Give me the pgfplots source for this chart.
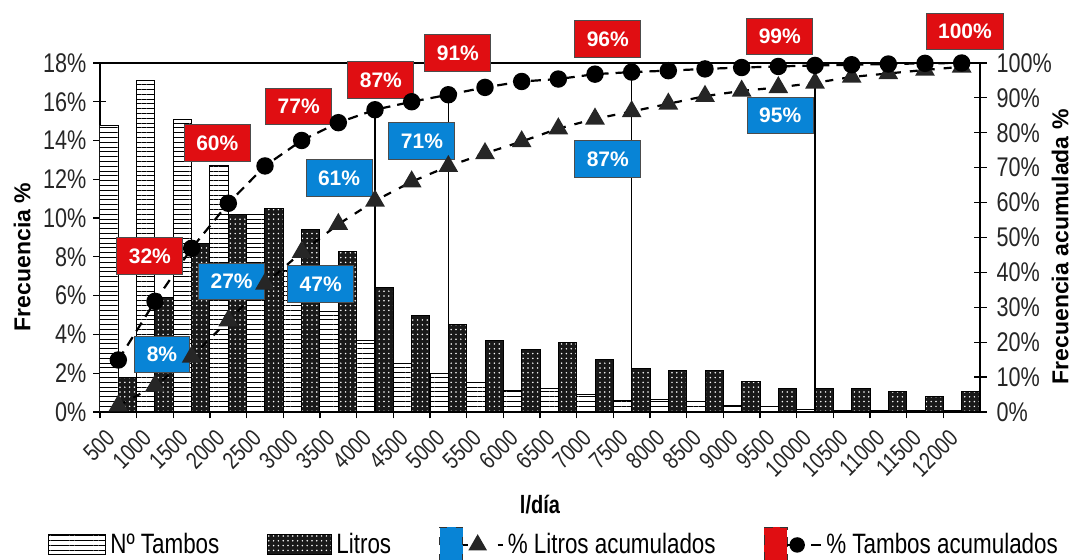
\documentclass[border=0pt]{standalone}
\usepackage{fontspec}
\setmainfont{Liberation Sans}
\newfontfamily\narrow[FakeStretch=0.8]{Liberation Sans}
\usepackage{pgfplots}
\pgfplotsset{compat=1.18}
\usepackage{pgfplotstable}
\usetikzlibrary{patterns,patterns.meta}
\definecolor{cred}{RGB}{224,14,18}
\definecolor{cblue}{RGB}{8,132,214}

\pgfplotstableread{
idx T L TC LC
0 14.8 1.8 14.9 1.8
1 17.1 5.9 31.7 7.5
2 15.1 8.7 46.9 15.8
3 12.7 10.2 59.8 26.2
4 10.2 10.5 70.5 36.7
5 7.3 9.4 77.8 45.8
6 5.2 8.3 82.9 53.8
7 3.7 6.4 86.6 60.5
8 2.5 5.0 88.9 66.0
9 2.0 4.5 90.9 70.4
10 1.5 3.7 93.0 74.1
11 1.13 3.2 94.7 77.5
12 1.2 3.6 95.4 81.2
13 0.9 2.7 96.8 84.0
14 0.58 2.25 97.4 86.1
15 0.62 2.13 97.8 88.3
16 0.53 2.13 98.3 90.5
17 0.36 1.56 98.7 92.0
18 0.27 1.22 99.0 93.0
19 0.14 1.22 99.3 94.3
20 0.1 1.22 99.5 96.0
21 0.1 1.08 99.7 97.0
22 0.06 0.79 99.9 98.0
23 0.06 1.05 100 98.9
}\data

\tikzset{
  tambosfill/.style={draw=black, line width=0.5pt, fill=white,
    postaction={pattern color=black, pattern={Lines[angle=0,distance=2.4pt,line width=0.5pt]}}},
  litrosfill/.style={draw=black, line width=0.5pt, fill=black!90,
    postaction={pattern color=white, pattern={Dots[distance=2.4pt,radius=0.42pt]}}},
  callout/.style={draw=black!70, line width=0.5pt, text=white,
    font=\fontsize{10.5}{12}\selectfont\bfseries, inner xsep=6pt, inner ysep=0pt,
    minimum height=18.3pt},
  callred/.style={callout, fill=cred},
  callblue/.style={callout, fill=cblue},
}

\begin{document}
\begin{tikzpicture}
\begin{axis}[
  scale only axis, width=440pt, height=174.5pt, at={(50pt,74pt)}, anchor=south west,
  xmin=-0.5, xmax=23.5, ymin=0, ymax=18,
  xtick={-0.5,0.5,...,22.5},
  xticklabels={500,1000,1500,2000,2500,3000,3500,4000,4500,5000,5500,6000,6500,7000,7500,8000,8500,9000,9500,10000,10500,11000,11500,12000},
  ytick={0,2,...,18},
  yticklabel={\pgfmathparse{int(round(\tick))}\pgfmathresult\%},
  tick align=center, major tick length=6.5pt, ytick pos=left, xtick pos=bottom,
  tick style={black, line width=0.6pt}, axis line style={black, line width=0.8pt},
  x tick label style={font=\narrow\fontsize{12}{12}\selectfont, text=black!85, rotate=45, anchor=north east, xshift=1.5pt, yshift=-1.5pt},
  y tick label style={font=\narrow\fontsize{13.5}{14}\selectfont, text=black!85},
  ylabel={Frecuencia \%},
  ylabel style={font=\bfseries\fontsize{11.5}{12}\selectfont, at={(axis description cs:-0.0886,0.444)}, anchor=center},
  xlabel={l/día},
  xlabel style={font=\narrow\bfseries\fontsize{12.5}{13}\selectfont, at={(axis description cs:0.5,-0.2665)}, anchor=center},
]
\addplot[ybar, bar width=0.5, bar shift=-0.25, tambosfill] table[x=idx,y=T]{\data};
\addplot[ybar, bar width=0.5, bar shift=0.25, litrosfill] table[x=idx,y=L]{\data};
\end{axis}

\begin{axis}[
  scale only axis, width=440pt, height=174.5pt, at={(50pt,74pt)}, anchor=south west,
  xmin=-0.5, xmax=23.5, ymin=0, ymax=100,
  axis y line*=right, axis x line=none, clip=false,
  ytick={0,10,...,100},
  yticklabel={\pgfmathparse{int(round(\tick))}\pgfmathresult\%},
  tick align=center, major tick length=6.5pt,
  tick style={black, line width=0.6pt}, axis line style={black, line width=0.8pt},
  y tick label style={font=\narrow\fontsize{13.5}{14}\selectfont, text=black!85, xshift=1.5pt},
  ylabel={Frecuencia acumulada \%},
  ylabel style={font=\bfseries\fontsize{11.5}{12}\selectfont, at={(axis description cs:1.091,0.473)}, anchor=center},
  legend columns=4,
  legend style={at={(axis description cs:-0.0591,-0.381)}, anchor=west, draw=none, fill=none,
    inner sep=0pt, font=\narrow\fontsize{14}{15}\selectfont,
    /tikz/every even column/.append style={column sep=22pt}},
]
\addlegendimage{legend image code/.code={\draw[tambosfill] (0pt,-5pt) rectangle (28.5pt,5pt);}}
\addlegendentry{Nº Tambos}
\addlegendimage{legend image code/.code={\draw[litrosfill] (0pt,-5pt) rectangle (32pt,5pt);}}
\addlegendentry{Litros}

\addplot[black, line width=0.7pt, forget plot] coordinates {(7,0) (7,86.6)};
\addplot[black, line width=0.7pt, forget plot] coordinates {(9,0) (9,90.9)};
\addplot[black, line width=0.7pt, forget plot] coordinates {(14,0) (14,97.4)};
\addplot[black, line width=0.7pt, forget plot] coordinates {(19,0) (19,99.3)};

\addplot[black, line width=1.1pt, dash pattern=on 4pt off 4.5pt, mark=triangle*, mark size=4.6pt,
  mark options={solid, fill=black!85, draw=black!85},
  legend image code/.code={
    \draw[fill=cblue, draw=black!80, line width=0.5pt] (0pt,-8.75pt) rectangle (11.5pt,8.75pt);
    \draw[black, line width=1.1pt] (11.5pt,0pt) -- (14pt,0pt);
    \draw[black, line width=1.1pt] (29pt,0pt) -- (31.5pt,0pt);
    \draw[black, fill=black!85, mark size=4.3pt] plot[mark=triangle*] coordinates {(19pt,0pt)};
  }] table[x=idx,y=LC]{\data};
\addlegendentry{\% Litros acumulados}

\addplot[black, line width=1.1pt, dash pattern=on 5pt off 3.5pt, mark=*, mark size=3.8pt,
  mark options={solid, fill=black},
  legend image code/.code={
    \draw[fill=cred, draw=black!80, line width=0.5pt] (0pt,-8.75pt) rectangle (11.5pt,8.75pt);
    \draw[black, line width=1.1pt] (11.5pt,0pt) -- (14pt,0pt);
    \draw[black, line width=1.1pt] (23.5pt,0pt) -- (28.5pt,0pt);
    \draw[black, fill=black, mark size=3.3pt] plot[mark=*] coordinates {(16.5pt,0pt)};
  }] table[x=idx,y=TC]{\data};
\addlegendentry{\% Tambos acumulados}

\node[callred] at (axis cs:0.86,44.7) {32\%};
\node[callred] at (axis cs:2.70,77.0) {60\%};
\node[callred] at (axis cs:4.92,87.5) {77\%};
\node[callred] at (axis cs:7.16,95.1) {87\%};
\node[callred] at (axis cs:9.26,102.8) {91\%};
\node[callred] at (axis cs:13.35,106.9) {96\%};
\node[callred] at (axis cs:18.04,107.6) {99\%};
\node[callred] at (axis cs:23.09,109.0) {100\%};
\node[callblue] at (axis cs:1.19,16.5) {8\%};
\node[callblue] at (axis cs:3.09,37.4) {27\%};
\node[callblue] at (axis cs:5.52,36.7) {47\%};
\node[callblue] at (axis cs:6.02,67.0) {61\%};
\node[callblue] at (axis cs:8.28,77.7) {71\%};
\node[callblue] at (axis cs:13.35,72.5) {87\%};
\node[callblue] at (axis cs:18.05,85.0) {95\%};
\end{axis}
\pgfresetboundingbox
\useasboundingbox (0,0) rectangle (539pt,280pt);
\end{tikzpicture}
\end{document}
